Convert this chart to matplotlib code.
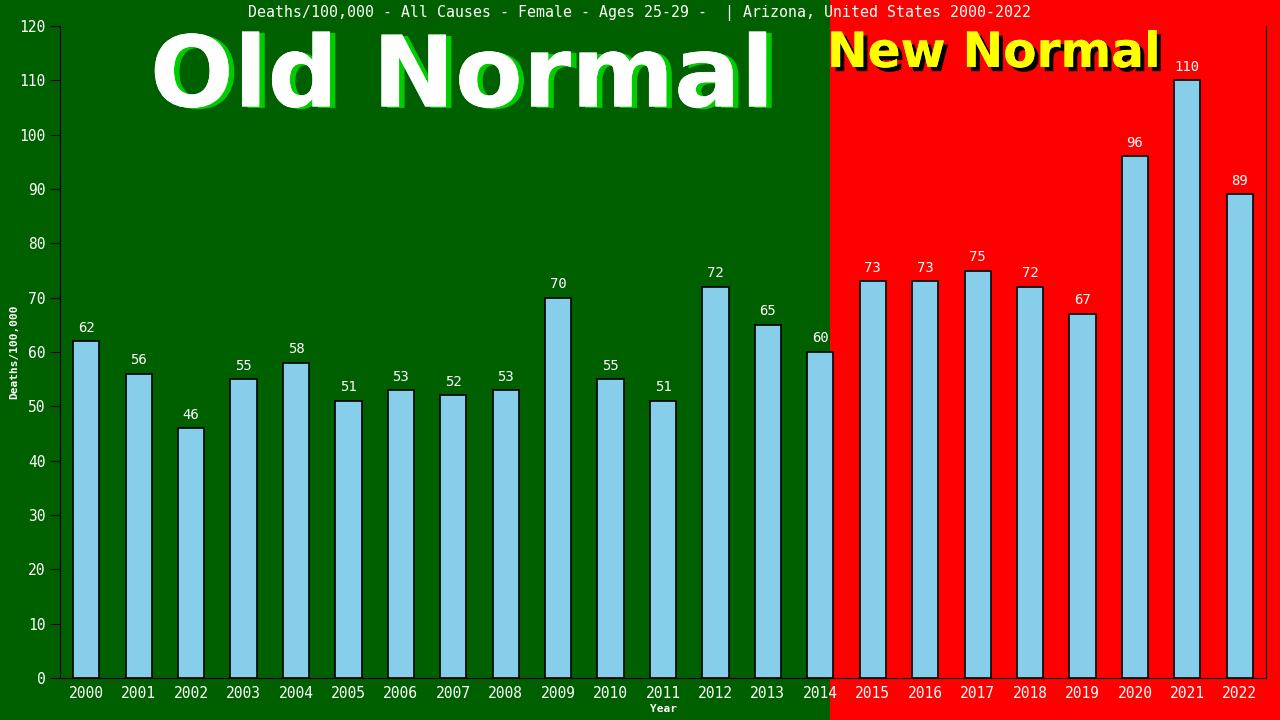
import matplotlib
matplotlib.use("Agg")
import matplotlib.pyplot as plt
import matplotlib.patheffects as pe

years = [str(y) for y in range(2000, 2023)]
deaths = [62, 56, 46, 55, 58, 51, 53, 52, 53, 70, 55, 51, 72, 65, 60,
          73, 73, 75, 72, 67, 96, 110, 89]

mono = "DejaVu Sans Mono"

fig = plt.figure(figsize=(12.8, 7.2), dpi=100)
fig.patch.set_facecolor("#ff0000")
# green "old normal" panel on the left part of the figure
fig.patches.append(plt.Rectangle((0, 0), 830 / 1280, 1, transform=fig.transFigure,
                                 facecolor="#006000", zorder=-1))

ax = fig.add_axes([60 / 1280, 42 / 720, 1206 / 1280, 652 / 720])
ax.set_zorder(2)
ax.patch.set_alpha(0)

x = range(len(years))
ax.bar(x, deaths, width=0.5, color="#87ceeb", edgecolor="black", linewidth=1.2, zorder=3)
for i, v in enumerate(deaths):
    ax.text(i, v + 1.2, str(v), ha="center", va="bottom", color="white",
            fontsize=10, family=mono, zorder=4)

ax.set_xlim(-0.5, 22.5)
ax.set_ylim(0, 120)
ax.set_yticks(range(0, 121, 10))
ax.set_xticks(list(x))
ax.set_xticklabels(years)
ax.tick_params(axis="both", colors="black", labelcolor="white", labelsize=10.5, length=7)
ax.tick_params(axis="x", length=0, pad=6)
for lab in ax.get_xticklabels() + ax.get_yticklabels():
    lab.set_family(mono)
for s in ["left", "bottom", "right"]:
    ax.spines[s].set_color("black")
ax.spines["top"].set_visible(False)

ax.set_xlabel("Year", color="white", fontsize=8, family=mono, fontweight="bold", labelpad=2)
ax.set_ylabel("Deaths/100,000", color="white", fontsize=8, family=mono, fontweight="bold", labelpad=0)

fig.text(640 / 1280, 1 - 13 / 720,
         "Deaths/100,000 - All Causes - Female - Ages 25-29 -  | Arizona, United States 2000-2022",
         ha="center", va="center", color="white", fontsize=10.7, family=mono, zorder=5)

fig.text(462 / 1280, 1 - 79 / 720, "Old Normal", ha="center", va="center",
         color="white", fontsize=71, fontweight="bold", family="DejaVu Sans", zorder=5,
         path_effects=[pe.withSimplePatchShadow(offset=(4, -1), shadow_rgbFace="#00cc00", alpha=1),
                       pe.Normal()])
fig.text(994 / 1280, 1 - 53 / 720, "New Normal", ha="center", va="center",
         color="#ffff00", fontsize=35, fontweight="bold", family="DejaVu Sans", zorder=5,
         path_effects=[pe.withSimplePatchShadow(offset=(3, -3), shadow_rgbFace="black", alpha=1),
                       pe.Normal()])

fig.savefig("out.png", dpi=100, facecolor=fig.get_facecolor())
